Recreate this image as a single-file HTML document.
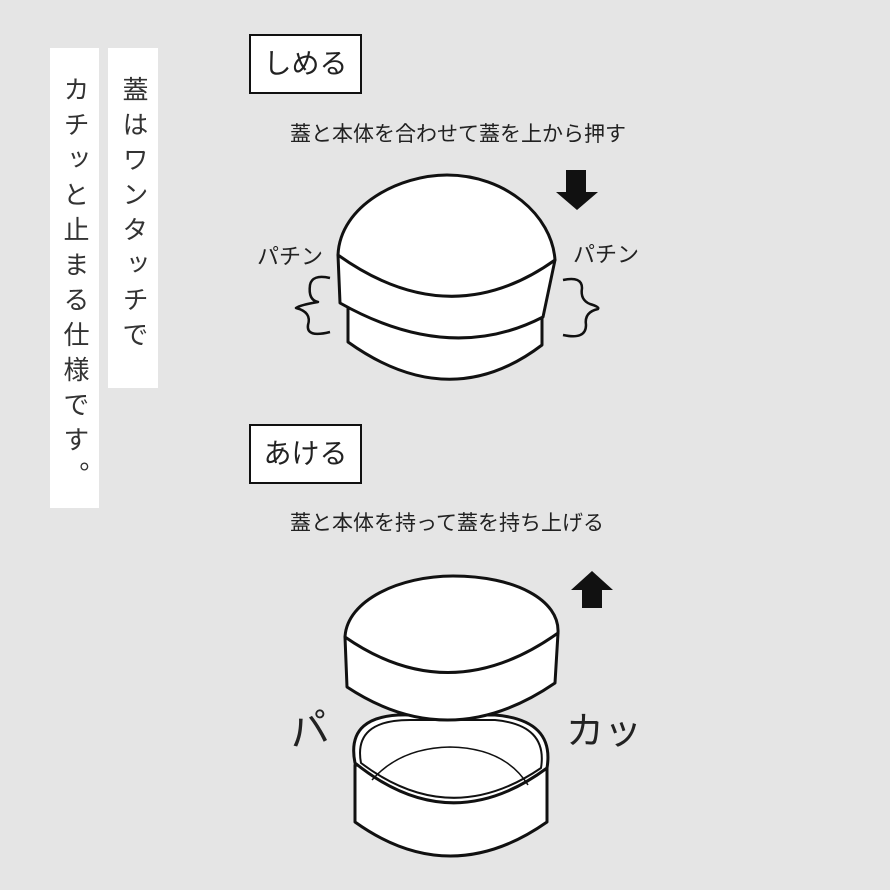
<!DOCTYPE html>
<html><head><meta charset="utf-8"><style>
body{margin:0;background:#e5e5e5;}
#c{position:relative;width:890px;height:890px;overflow:hidden;background:#e5e5e5;font-family:"Liberation Sans","Noto Sans CJK JP",sans-serif;color:#222;}
.vp{position:absolute;background:#fff;writing-mode:vertical-rl;font-size:26px;line-height:49px;text-align:start;letter-spacing:9px;color:#333;}
.bx{position:absolute;border:2px solid #111;background:#fff;font-size:28px;text-align:center;line-height:56px;}
.cap{position:absolute;font-size:21px;white-space:nowrap;}
</style></head><body><div id="c">
<div class="vp" style="left:50px;top:48px;width:49px;height:460px;padding-top:28px;box-sizing:border-box;">カチッと止まる仕様です。</div>
<div class="vp" style="left:108px;top:48px;width:50px;height:340px;padding-top:28px;box-sizing:border-box;">蓋はワンタッチで</div>
<div class="bx" style="left:249px;top:34px;width:109px;height:56px;">しめる</div>
<div class="bx" style="left:249px;top:424px;width:109px;height:56px;">あける</div>
<div class="cap" style="left:290px;top:118px;">蓋と本体を合わせて蓋を上から押す</div>
<div class="cap" style="left:290px;top:507px;">蓋と本体を持って蓋を持ち上げる</div>
<div class="cap" style="left:257px;top:239px;font-size:22px;">パチン</div>
<div class="cap" style="left:573px;top:237px;font-size:22px;">パチン</div>
<div class="cap" style="left:288px;top:698px;font-size:40px;transform:rotate(-10deg);">パ</div>
<div class="cap" style="left:566px;top:700px;font-size:38px;">カッ</div>
<svg width="890" height="890" style="position:absolute;left:0;top:0" fill="#fff" stroke="#111" stroke-width="3" stroke-linejoin="round">
<path d="M348,300 L348,342 Q450,415 542,345 L542,300 Z"/>
<path d="M338,255 L340,303 Q450,365 543,317 L555,260 Z"/>
<path d="M338,255 C340,205 400,175 447,175 C505,175 552,215 555,260 Q450,335 338,255 Z"/>
<path d="M330,278 Q312,274 310,285 Q308,300 318,302 Q300,305 296,308 Q312,312 308,325 Q306,338 330,332" fill="none" stroke-width="2.5"/>
<path d="M563,280 Q582,276 582,288 Q580,300 590,304 Q600,307 598,309 Q584,312 586,325 Q586,340 563,335" fill="none" stroke-width="2.5"/>
<path d="M566,170 L586,170 L586,192 L598,192 L577,210 L556,192 L566,192 Z" fill="#111" stroke="none"/>
<path d="M582,608 L602,608 L602,590 L613,590 L592,571 L571,590 L582,590 Z" fill="#111" stroke="none"/>
<path d="M355,765 L355,822 Q450,890 547,822 L547,767 Z"/>
<path d="M355,763 Q345,713 410,715 L495,715 Q555,720 547,768 Q450,840 355,763 Z"/>
<path d="M361,763 Q353,720 410,720 L495,720 Q548,725 541,768 Q450,830 361,763 Z" stroke-width="2"/>
<path d="M372,780 Q400,748 450,747 Q505,748 528,785" fill="none" stroke-width="1.5"/>
<path d="M345,637 L347,687 Q450,755 555,683 L558,633 Z"/>
<path d="M345,637 C347,600 400,576 453,576 C515,576 560,600 558,633 Q450,710 345,637 Z"/>
</svg>
</div></body></html>
